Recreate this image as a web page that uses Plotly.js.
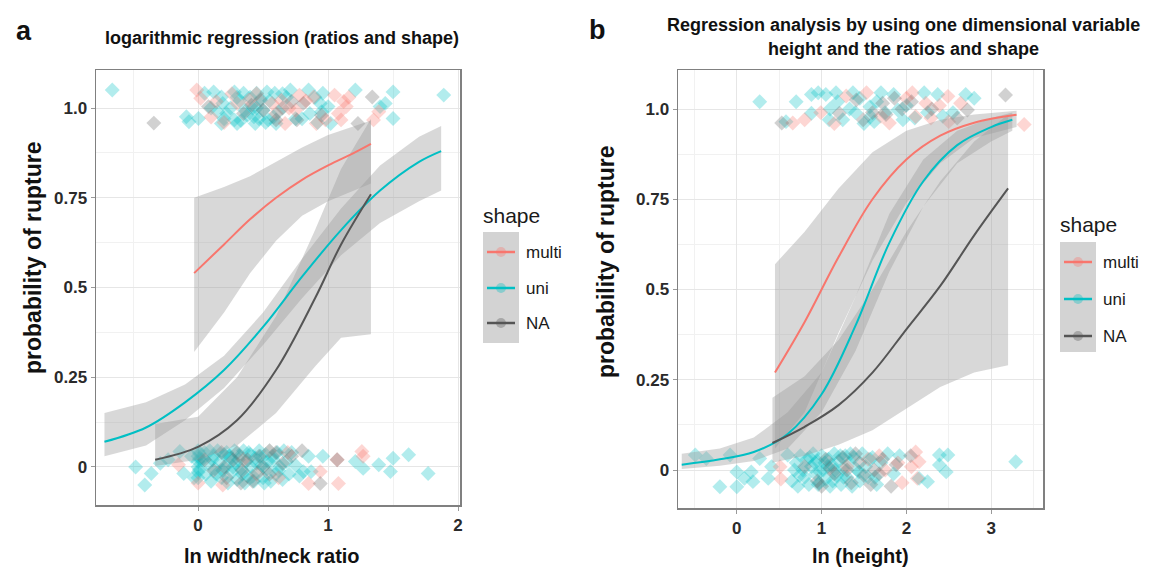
<!DOCTYPE html>
<html><head><meta charset="utf-8">
<script src="https://cdn.plot.ly/plotly-3.0.1.min.js"></script>
<style>html,body{margin:0;padding:0;background:#fff}#chart{width:1153px;height:575px}</style>
</head><body><div id="chart"></div>
<script>
// ---------------- DATA ----------------
var shapeNames = ['multi', 'uni', 'NA'];
var yTickVals = [0, 0.25, 0.5, 0.75, 1];
var yTickText = ['0', '0.25', '0.5', '0.75', '1.0'];
var xTickValsA = [0, 1, 2];
var xTickValsB = [0, 1, 2, 3];

// Panel a: fitted curves and confidence bands
var aMultiX = [-0.03, 0.2, 0.4, 0.6, 0.8, 1.0, 1.2, 1.33];
var aMultiY = [0.54, 0.62, 0.69, 0.75, 0.80, 0.84, 0.875, 0.90];
var aMultiHi = [0.75, 0.78, 0.81, 0.85, 0.89, 0.925, 0.95, 0.965];
var aMultiLo = [0.32, 0.43, 0.54, 0.63, 0.70, 0.74, 0.77, 0.79];

var aUniX = [-0.72, -0.4, -0.1, 0.2, 0.5, 0.8, 1.1, 1.4, 1.7, 1.87];
var aUniY = [0.07, 0.11, 0.18, 0.27, 0.39, 0.53, 0.66, 0.77, 0.85, 0.88];
var aUniHi = [0.15, 0.18, 0.23, 0.31, 0.43, 0.58, 0.72, 0.84, 0.92, 0.95];
var aUniLo = [0.03, 0.06, 0.13, 0.22, 0.34, 0.47, 0.59, 0.68, 0.74, 0.77];

var aNaX = [-0.33, 0, 0.3, 0.6, 0.9, 1.1, 1.33];
var aNaY = [0.02, 0.056, 0.13, 0.27, 0.47, 0.62, 0.76];
var aNaHi = [0.12, 0.14, 0.25, 0.42, 0.66, 0.83, 0.97];
var aNaLo = [0.003, 0.02, 0.06, 0.15, 0.28, 0.36, 0.37];

// Panel a: jittered observations
var aPtsUniX = [-0.66,-0.09,-0.07,0.003,0.05,0.12,0.18,0.19,0.22,0.18,0.28,0.28,0.30,0.35,0.36,0.43,0.44,0.45,0.50,0.53,0.54,0.59,0.60,0.71,0.85,0.86,0.94,0.95,0.96,1.00,1.02,1.21,1.40,1.44,1.50,1.50,1.89,0.25,0.32,0.38,0.40,0.47,0.42,0.55,0.62,0.68,0.80,0.90,0.92,0.15,0.33,0.48,0.58,0.10,0.20,0.30,0.45,0.52,0.65,0.75,
  -0.48,-0.41,-0.36,-0.29,-0.23,-0.14,-0.11,-0.05,-0.03,0.0,0.0,0.0,0.0,0.0,0.0,0.01,0.01,0.01,0.05,0.06,0.08,0.10,0.12,0.13,0.15,0.17,0.18,0.20,0.21,0.23,0.25,0.26,0.28,0.29,0.30,0.32,0.33,0.35,0.36,0.37,0.38,0.40,0.41,0.43,0.44,0.46,0.47,0.49,0.50,0.52,0.53,0.55,0.56,0.58,0.60,0.61,0.63,0.65,0.66,0.68,0.70,0.72,0.75,0.78,0.81,0.85,0.87,0.96,1.21,1.27,1.39,1.48,1.50,1.62,1.77,0.03,0.09,0.14,0.22,0.27,0.31,0.34,0.39,0.42,0.45,0.48,0.51,0.54,0.57,0.62,0.19,0.24,0.11];
var aPtsUniY = [1.05,0.976,0.962,0.971,1.041,1.045,1.031,1.013,0.985,0.957,1.045,0.967,0.957,1.041,0.994,0.976,0.957,1.041,0.994,1.045,0.967,1.041,0.957,1.05,1.05,0.985,1.013,0.99,1.041,1.004,0.957,1.05,1.004,1.013,1.045,0.971,1.036,1.00,1.02,0.98,1.03,0.97,1.00,1.02,0.99,1.03,0.97,1.03,0.96,0.99,0.965,1.025,0.975,1.0,0.97,1.03,1.0,0.96,1.04,0.97,
  0.0,-0.05,-0.018,0.01,0.02,0.043,-0.018,0.03,-0.03,0.045,0.03,0.015,0.0,-0.015,-0.03,0.038,-0.008,0.022,0.04,-0.02,0.01,-0.04,0.03,-0.005,0.045,0.015,-0.03,0.035,0.0,-0.045,0.025,-0.015,0.045,0.01,-0.035,0.03,-0.005,0.045,-0.045,0.015,-0.025,0.035,0.0,-0.04,0.025,-0.015,0.045,0.005,-0.03,0.035,-0.005,0.045,-0.04,0.02,-0.02,0.04,0.0,-0.035,0.045,0.015,-0.02,0.04,0.005,-0.025,-0.013,0.03,-0.013,0.03,0.015,-0.004,0.006,-0.013,0.024,0.034,-0.018,0.02,0.045,-0.02,0.04,0.0,0.02,-0.02,0.04,-0.025,0.01,0.03,-0.045,0.015,0.03,-0.01,-0.01,0.03,0.02];
var aPtsMultiX = [-0.01,0.02,0.14,0.30,0.39,0.57,0.64,0.67,0.75,0.78,0.89,0.91,0.98,1.05,1.08,1.10,1.12,1.14,1.35,1.39,0.10,0.26,0.70,0.83,1.16,0.20,0.45,0.60,
  -0.15,0.19,0.35,0.55,0.69,0.85,0.94,1.08,1.07,1.26,1.27,0.62,0.45,0.0];
var aPtsMultiY = [1.05,1.027,1.018,1.013,1.022,1.013,1.022,0.957,0.994,1.036,1.031,0.957,0.967,1.036,0.985,0.967,1.018,1.004,0.967,0.99,0.975,1.04,1.0,1.02,1.03,0.96,1.04,0.985,
  0.006,-0.05,0.02,0.045,0.04,-0.046,-0.013,-0.046,0.02,0.043,0.03,-0.03,-0.02,-0.045];
var aPtsNaX = [-0.34,0.08,0.41,0.48,0.50,0.60,0.72,0.76,0.81,1.23,1.34,0.95,0.35,0.65,
  0.05,0.12,0.18,0.22,0.27,0.30,0.34,0.38,0.42,0.47,0.50,0.55,0.60,0.65,0.72,0.94,1.07,0.80,0.20,0.33];
var aPtsNaY = [0.958,1.004,1.008,1.022,0.994,0.967,1.018,0.967,1.013,0.957,1.031,0.98,0.985,1.0,
  0.02,-0.01,0.04,-0.03,0.02,0.04,-0.01,0.02,-0.04,0.03,0.0,-0.02,0.04,0.01,0.03,-0.046,0.02,0.045,0.0,-0.045];

// Panel b: fitted curves and confidence bands
var bMultiX = [0.45, 0.8, 1.2, 1.6, 2.0, 2.4, 2.8, 3.3];
var bMultiY = [0.27, 0.41, 0.59, 0.75, 0.86, 0.926, 0.962, 0.984];
var bMultiHi = [0.57, 0.66, 0.78, 0.88, 0.94, 0.97, 0.985, 0.995];
var bMultiLo = [0.06, 0.16, 0.38, 0.58, 0.74, 0.85, 0.92, 0.95];

var bUniX = [-0.65, -0.2, 0.2, 0.6, 1.0, 1.4, 1.8, 2.2, 2.6, 3.0, 3.25];
var bUniY = [0.015, 0.03, 0.05, 0.10, 0.21, 0.40, 0.63, 0.80, 0.90, 0.95, 0.97];
var bUniHi = [0.045, 0.06, 0.09, 0.16, 0.27, 0.48, 0.71, 0.86, 0.94, 0.975, 0.99];
var bUniLo = [0.003, 0.012, 0.025, 0.06, 0.16, 0.33, 0.55, 0.73, 0.85, 0.91, 0.94];

var bNaX = [0.42, 0.8, 1.2, 1.6, 2.0, 2.4, 2.8, 3.2];
var bNaY = [0.075, 0.12, 0.18, 0.27, 0.39, 0.51, 0.65, 0.78];
var bNaHi = [0.20, 0.26, 0.36, 0.50, 0.66, 0.80, 0.91, 0.985];
var bNaLo = [0.02, 0.04, 0.07, 0.11, 0.17, 0.23, 0.27, 0.29];

// Panel b: jittered observations
var bPtsUniX = [0.27,0.58,0.70,0.88,0.88,0.96,1.05,1.09,1.17,1.19,1.33,1.37,1.57,1.58,1.62,1.70,1.90,1.96,2.21,2.25,2.37,2.43,2.55,2.70,2.80,1.25,1.45,1.50,1.65,1.75,1.85,2.0,2.1,1.1,1.4,
  -0.49,-0.36,-0.2,-0.08,0.0,0.0,0.09,0.17,0.19,0.27,0.37,0.41,0.6,0.65,0.7,0.72,0.75,0.78,0.8,0.83,0.85,0.88,0.9,0.93,0.95,0.97,1.0,1.02,1.05,1.08,1.1,1.12,1.15,1.18,1.2,1.23,1.25,1.28,1.3,1.33,1.36,1.38,1.42,1.45,1.48,1.52,1.55,1.6,1.65,1.7,1.78,1.85,1.92,2.15,2.25,2.39,2.49,2.39,2.47,3.29,0.92,1.07,1.13,1.22,0.98,0.68,0.74,0.86,0.96,1.04,1.16,1.26,1.34,1.44,1.57,1.63];
var bPtsUniY = [1.02,0.965,1.02,0.988,1.04,1.045,1.04,0.97,1.045,1.02,1.0,1.045,1.006,0.979,0.965,1.045,0.997,0.97,1.045,0.99,1.04,0.98,0.99,1.04,1.03,0.97,1.03,0.96,1.02,0.99,1.04,1.01,0.975,1.0,0.99,
  0.042,0.032,-0.046,0.042,-0.005,-0.046,-0.023,-0.005,-0.032,0.032,-0.023,0.009,0.042,-0.03,0.02,-0.045,0.04,0.0,-0.02,0.03,-0.04,0.01,0.045,-0.01,0.025,-0.035,0.04,0.0,-0.025,0.03,-0.045,0.015,0.045,-0.015,0.025,-0.04,0.005,0.04,-0.02,0.02,-0.045,0.035,0.0,-0.03,0.045,0.01,-0.02,0.035,-0.04,0.02,0.045,-0.01,0.04,-0.023,-0.032,0.042,0.042,0.014,-0.005,0.023,0.02,0.01,-0.03,0.04,-0.005,0.0,-0.015,0.035,-0.04,0.02,0.0,-0.02,0.045,-0.005,0.03,-0.02];
var bPtsMultiX = [0.66,0.80,0.99,1.29,1.53,1.80,2.07,2.11,2.23,2.29,2.39,2.49,2.64,3.39,1.7,2.0,2.5,1.15,
  0.51,0.52,1.55,1.75,1.9,2.06,2.11,2.15,2.13,1.95,1.3,1.68];
var bPtsMultiY = [0.961,0.97,0.99,1.036,1.045,0.961,1.045,0.979,1.016,0.975,1.01,1.035,1.016,0.957,0.98,1.03,0.965,0.96,
  0.009,-0.025,0.03,0.0,0.02,0.009,0.05,0.023,-0.023,-0.035,0.01,0.04];
var bPtsNaX = [0.53,1.21,1.41,1.49,1.72,1.76,1.86,2.06,2.72,3.17,1.6,1.95,2.3,2.6,
  0.8,0.95,1.05,1.15,1.25,1.35,1.45,1.58,1.62,1.72,1.82,1.88,2.05,1.0,1.4,1.1,1.3,1.5,1.68];
var bPtsNaY = [0.961,0.988,1.025,0.97,1.016,0.985,1.03,1.02,0.997,1.039,0.99,1.0,1.0,0.975,
  0.01,-0.03,0.03,-0.01,0.035,-0.035,0.02,-0.04,0.0,0.03,-0.045,0.015,0.04,-0.045,0.045,0.005,0.0,-0.015,-0.01];

// ---------------- STYLE ----------------
var W = 1153, H = 575;
var FONT = 'Liberation Sans, Arial, Helvetica, sans-serif';
var colMulti = '#F8766D', colUni = '#00BFC4', colNA = '#555555', colNAPt = '#666666';
var bandFill = 'rgba(153,153,153,0.38)';
function PX(x){ return x / W; }
function PY(y){ return 1 - y / H; }

function band(x, lo, hi, xa, ya){
  var xs = x.concat(x.slice().reverse());
  var ys = hi.concat(lo.slice().reverse());
  return {x: xs, y: ys, xaxis: xa, yaxis: ya, type: 'scatter', mode: 'lines', fill: 'toself',
    fillcolor: bandFill, line: {width: 0, color: 'rgba(0,0,0,0)'}, hoverinfo: 'skip', showlegend: false};
}
function curve(x, y, col, xa, ya, name){
  return {x: x, y: y, xaxis: xa, yaxis: ya, type: 'scatter', mode: 'lines', name: name,
    line: {color: col, width: 2, shape: 'spline', smoothing: 1}, showlegend: false};
}
function pts(x, y, col, xa, ya, name){
  return {x: x, y: y, xaxis: xa, yaxis: ya, type: 'scatter', mode: 'markers', name: name,
    marker: {symbol: 'diamond', size: 11.5, color: col, opacity: 0.3, line: {width: 0}}, showlegend: false};
}

var traces = [
  pts(aPtsUniX, aPtsUniY, colUni, 'x', 'y', 'uni'),
  pts(aPtsMultiX, aPtsMultiY, colMulti, 'x', 'y', 'multi'),
  pts(aPtsNaX, aPtsNaY, colNAPt, 'x', 'y', 'NA'),
  band(aMultiX, aMultiLo, aMultiHi, 'x', 'y'),
  band(aUniX, aUniLo, aUniHi, 'x', 'y'),
  band(aNaX, aNaLo, aNaHi, 'x', 'y'),
  curve(aMultiX, aMultiY, colMulti, 'x', 'y', 'multi'),
  curve(aUniX, aUniY, colUni, 'x', 'y', 'uni'),
  curve(aNaX, aNaY, colNA, 'x', 'y', 'NA'),

  pts(bPtsUniX, bPtsUniY, colUni, 'x2', 'y2', 'uni'),
  pts(bPtsMultiX, bPtsMultiY, colMulti, 'x2', 'y2', 'multi'),
  pts(bPtsNaX, bPtsNaY, colNAPt, 'x2', 'y2', 'NA'),
  band(bMultiX, bMultiLo, bMultiHi, 'x2', 'y2'),
  band(bUniX, bUniLo, bUniHi, 'x2', 'y2'),
  band(bNaX, bNaLo, bNaHi, 'x2', 'y2'),
  curve(bMultiX, bMultiY, colMulti, 'x2', 'y2', 'multi'),
  curve(bUniX, bUniY, colUni, 'x2', 'y2', 'uni'),
  curve(bNaX, bNaY, colNA, 'x2', 'y2', 'NA')
];

var tickFont = {family: FONT, size: 17, color: '#2a2a2a', weight: 'bold'};
function xAxis(domain, range, vals, anchor){
  return {domain: domain, range: range, anchor: anchor, tickmode: 'array', tickvals: vals,
    ticktext: vals.map(String), showgrid: true, gridcolor: '#e6e6e6', gridwidth: 1,
    minor: {dtick: 0.5, tick0: 0, showgrid: true, gridcolor: '#f1f1f1', gridwidth: 1},
    zeroline: false, showline: true, mirror: true, linecolor: '#808080', linewidth: 1.5,
    ticks: 'outside', ticklen: 4, tickcolor: '#9a9a9a', tickwidth: 1, tickfont: tickFont, fixedrange: true};
}
function yAxis(domain, range, anchor){
  return {domain: domain, range: range, anchor: anchor, tickmode: 'array', tickvals: yTickVals,
    ticktext: yTickText, showgrid: true, gridcolor: '#e6e6e6', gridwidth: 1,
    minor: {dtick: 0.125, tick0: 0, showgrid: true, gridcolor: '#f1f1f1', gridwidth: 1},
    zeroline: false, showline: true, mirror: true, linecolor: '#808080', linewidth: 1.5,
    ticks: 'outside', ticklen: 4, tickcolor: '#9a9a9a', tickwidth: 1, tickfont: tickFont, fixedrange: true};
}

// legends (drawn as layout decorations)
var shapes = [], annotations = [];
function legend(x0, yTitle, boxTop, boxBot, ys, textX){
  annotations.push({xref: 'paper', yref: 'paper', x: PX(x0 - 2), y: PY(yTitle), xanchor: 'left', yanchor: 'middle',
    text: 'shape', showarrow: false, font: {family: FONT, size: 21, color: '#1a1a1a'}});
  shapes.push({type: 'rect', xref: 'paper', yref: 'paper', x0: PX(x0), x1: PX(x0 + 36), y0: PY(boxBot), y1: PY(boxTop),
    fillcolor: '#d3d3d3', line: {width: 0}, layer: 'above'});
  var cols = [colMulti, colUni, colNA];
  for (var i = 0; i < 3; i++){
    shapes.push({type: 'line', xref: 'paper', yref: 'paper', x0: PX(x0 + 4), x1: PX(x0 + 32), y0: PY(ys[i]), y1: PY(ys[i]),
      line: {color: cols[i], width: 2.5}, layer: 'above'});
    shapes.push({type: 'circle', xref: 'paper', yref: 'paper', x0: PX(x0 + 13), x1: PX(x0 + 23), y0: PY(ys[i] + 5), y1: PY(ys[i] - 5),
      fillcolor: cols[i], opacity: 0.35, line: {width: 0}, layer: 'above'});
    annotations.push({xref: 'paper', yref: 'paper', x: PX(textX), y: PY(ys[i]), xanchor: 'left', yanchor: 'middle',
      text: shapeNames[i], showarrow: false, font: {family: FONT, size: 17, color: '#1a1a1a'}});
  }
}
legend(483, 215, 232, 343, [252, 288, 323], 524);
legend(1060, 225, 242, 352, [262, 299, 336], 1101);

function txt(x, y, s, size, opts){
  var a = {xref: 'paper', yref: 'paper', x: PX(x), y: PY(y), text: s, showarrow: false,
    xanchor: 'center', yanchor: 'middle', font: {family: FONT, size: size, color: '#111', weight: 'bold'}};
  for (var k in (opts || {})) a[k] = opts[k];
  annotations.push(a);
}
txt(24, 31, 'a', 27);
txt(598, 30, 'b', 27);
txt(282, 38, 'logarithmic regression (ratios and shape)', 18);
txt(903, 25, 'Regression analysis by using one dimensional variable', 18);
txt(903, 49, 'height and the ratios and shape', 18);
txt(33, 258, 'probability of rupture', 23, {textangle: -90});
txt(606, 262, 'probability of rupture', 23, {textangle: -90});
txt(272, 556, 'ln width/neck ratio', 20);
txt(860, 556, 'ln (height)', 20);

var layout = {
  width: W, height: H, margin: {l: 0, r: 0, t: 0, b: 0},
  paper_bgcolor: '#ffffff', plot_bgcolor: '#ffffff', showlegend: false,
  font: {family: FONT},
  xaxis: xAxis([PX(96), PX(460)], [-0.785, 2.015], xTickValsA, 'y'),
  yaxis: yAxis([1 - 505 / H, 1 - 70 / H], [-0.106, 1.106], 'x'),
  xaxis2: xAxis([PX(678), PX(1043)], [-0.694, 3.612], xTickValsB, 'y2'),
  yaxis2: yAxis([1 - 508 / H, 1 - 70 / H], [-0.105, 1.108], 'x2'),
  shapes: shapes, annotations: annotations
};

Plotly.newPlot('chart', traces, layout, {staticPlot: true, displayModeBar: false});
</script>
</body></html>
